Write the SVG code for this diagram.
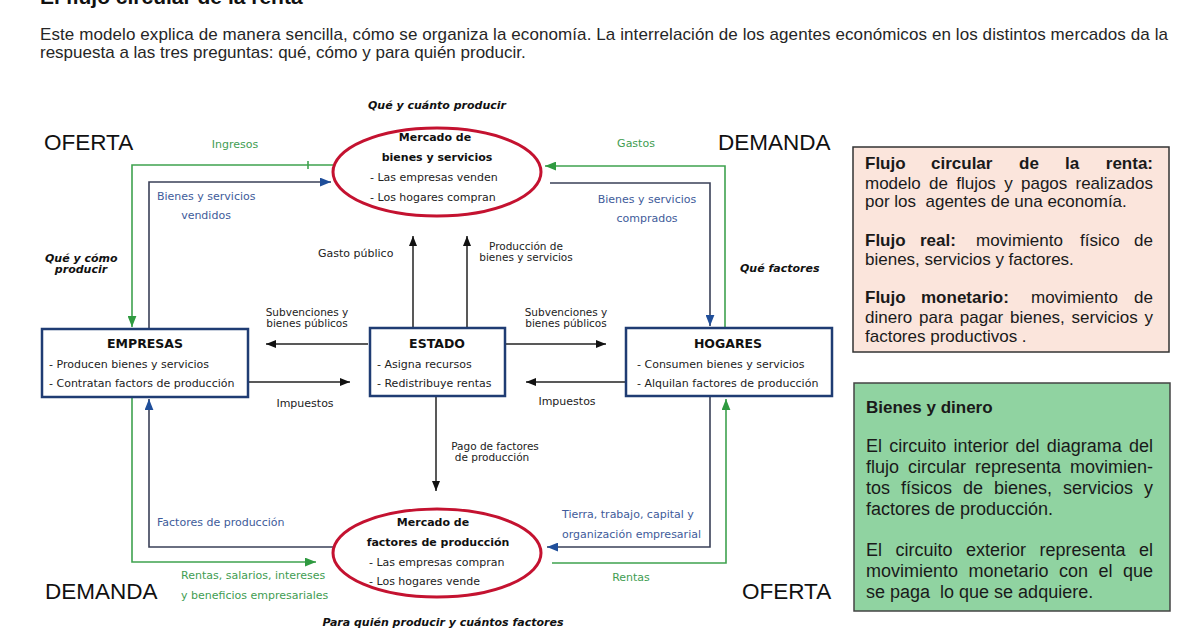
<svg xmlns="http://www.w3.org/2000/svg" width="1200" height="630" viewBox="0 0 1200 630">
<style>
.para{font-family:"Liberation Sans",Arial,sans-serif;font-size:17px;fill:#262626}
.title{font-family:"Liberation Sans",Arial,sans-serif;font-size:21px;font-weight:bold;fill:#111}
.lbl{font-family:"DejaVu Sans",Verdana,sans-serif;font-size:11px;fill:#222}
.sm{font-size:10.5px}
.g{fill:#3f9d52}
.b{fill:#3e5b9a}
.q{font-family:"DejaVu Sans",Verdana,sans-serif;font-size:11px;font-weight:bold;font-style:italic;fill:#111}
.hd{font-family:"DejaVu Sans",Verdana,sans-serif;font-weight:bold;fill:#111}
.big{font-family:"Liberation Sans",Arial,sans-serif;font-size:22.5px;fill:#111}
.box{fill:#fff;stroke:#1f3c73;stroke-width:2.5}
.mkt{fill:#fff;stroke:#c41230;stroke-width:3}
.side{font-family:"Liberation Sans",Arial,sans-serif;font-size:17px;fill:#1a1a1a}
.side2{font-family:"Liberation Sans",Arial,sans-serif;font-size:18px;fill:#1a1a1a}
.bd{font-weight:bold}
.lg{fill:none;stroke:#3fa24f;stroke-width:1.6}
.lb{fill:none;stroke:#3a4058;stroke-width:1.6}
.lk{fill:none;stroke:#222;stroke-width:1.5}
</style>
<defs>
<marker id="ag" viewBox="0 0 10 8" markerWidth="11" markerHeight="9" refX="10" refY="4" orient="auto" markerUnits="userSpaceOnUse"><path d="M0,0 L10,4 L0,8 z" fill="#2f9a40"/></marker>
<marker id="ab" viewBox="0 0 10 8" markerWidth="11" markerHeight="9" refX="10" refY="4" orient="auto" markerUnits="userSpaceOnUse"><path d="M0,0 L10,4 L0,8 z" fill="#1f4e9a"/></marker>
<marker id="ak" viewBox="0 0 10 8" markerWidth="10" markerHeight="8" refX="10" refY="4" orient="auto" markerUnits="userSpaceOnUse"><path d="M0,0 L10,4 L0,8 z" fill="#111"/></marker>
</defs>
<rect width="1200" height="630" fill="#fff"/>

<text class="title" x="40" y="4">El flujo circular de la renta</text>
<text class="para" x="40" y="40" textLength="1128" lengthAdjust="spacing">Este modelo explica de manera sencilla, cómo se organiza la economía. La interrelación de los agentes económicos en los distintos mercados da la</text>
<text class="para" x="40" y="58">respuesta a las tres preguntas: qué, cómo y para quién producir.</text>

<g id="connectors">
<path class="lg" d="M333 165 H132 V327" marker-end="url(#ag)"/>
<path class="lg" d="M308 161 V169"/>
<path class="lb" d="M149 329 V182 H331" marker-end="url(#ab)"/>
<path class="lg" d="M725 328 V166 H545" marker-end="url(#ag)"/>
<path class="lb" d="M550 183 H710 V326" marker-end="url(#ab)"/>
<path class="lk" d="M413 328 V236" marker-end="url(#ak)"/>
<path class="lk" d="M467 328 V236" marker-end="url(#ak)"/>
<path class="lk" d="M368 344 H266" marker-end="url(#ak)"/>
<path class="lk" d="M249 382 H350" marker-end="url(#ak)"/>
<path class="lk" d="M505 344 H606" marker-end="url(#ak)"/>
<path class="lk" d="M625 382 H526" marker-end="url(#ak)"/>
<path class="lk" d="M436 397 V491" marker-end="url(#ak)"/>
<path class="lb" d="M334 547 H149 V399" marker-end="url(#ab)"/>
<path class="lg" d="M132 397 V562 H316" marker-end="url(#ag)"/>
<path class="lb" d="M710 397 V547 H547" marker-end="url(#ab)"/>
<path class="lg" d="M552 563 H726 V399" marker-end="url(#ag)"/>
</g>

<g id="labels">
<text class="big" x="44" y="150">OFERTA</text>
<text class="big" x="718" y="150">DEMANDA</text>
<text class="big" x="45" y="599">DEMANDA</text>
<text class="big" x="742" y="599">OFERTA</text>
<text class="q" x="437" y="109" text-anchor="middle">Qué y cuánto producir</text>
<text class="q" x="443" y="626" text-anchor="middle">Para quién producir y cuántos factores</text>
<text class="q" x="45" y="262">Qué y cómo</text>
<text class="q" x="81" y="273" text-anchor="middle">producir</text>
<text class="q" x="740" y="272">Qué factores</text>
<text class="lbl g" x="235" y="148" text-anchor="middle">Ingresos</text>
<text class="lbl g" x="636" y="147" text-anchor="middle">Gastos</text>
<text class="lbl b" x="157" y="200">Bienes y servicios</text>
<text class="lbl b" x="206" y="219" text-anchor="middle">vendidos</text>
<text class="lbl b" x="647" y="203" text-anchor="middle">Bienes y servicios</text>
<text class="lbl b" x="647" y="222" text-anchor="middle">comprados</text>
<text class="lbl" x="318" y="257">Gasto público</text>
<text class="lbl sm" x="526" y="250" text-anchor="middle">Producción de</text>
<text class="lbl sm" x="526" y="261" text-anchor="middle">bienes y servicios</text>
<text class="lbl sm" x="307" y="316" text-anchor="middle">Subvenciones y</text>
<text class="lbl sm" x="307" y="327" text-anchor="middle">bienes públicos</text>
<text class="lbl sm" x="566" y="316" text-anchor="middle">Subvenciones y</text>
<text class="lbl sm" x="566" y="327" text-anchor="middle">bienes públicos</text>
<text class="lbl" x="305" y="407" text-anchor="middle">Impuestos</text>
<text class="lbl" x="567" y="405" text-anchor="middle">Impuestos</text>
<text class="lbl sm" x="495" y="450" text-anchor="middle">Pago de factores</text>
<text class="lbl sm" x="492" y="461" text-anchor="middle">de producción</text>
<text class="lbl b" x="157" y="526">Factores de producción</text>
<text class="lbl g" x="181" y="579">Rentas, salarios, intereses</text>
<text class="lbl g" x="181" y="599">y beneficios empresariales</text>
<text class="lbl b" x="562" y="518">Tierra, trabajo, capital y</text>
<text class="lbl b" x="562" y="538">organización empresarial</text>
<text class="lbl g" x="631" y="581" text-anchor="middle">Rentas</text>
</g>

<g id="mercado-bienes">
<ellipse class="mkt" cx="437" cy="172" rx="104" ry="44"/>
<text class="hd" x="435" y="141" font-size="11" text-anchor="middle">Mercado de</text>
<text class="hd" x="437" y="161" font-size="11" text-anchor="middle">bienes y servicios</text>
<text class="lbl" x="370" y="181">- Las empresas venden</text>
<text class="lbl" x="370" y="201">- Los hogares compran</text>
</g>

<g id="mercado-factores">
<ellipse class="mkt" cx="437" cy="553" rx="104" ry="44"/>
<text class="hd" x="433" y="526" font-size="11" text-anchor="middle">Mercado de</text>
<text class="hd" x="438" y="546" font-size="11" text-anchor="middle">factores de producción</text>
<text class="lbl" x="369" y="566">- Las empresas compran</text>
<text class="lbl" x="369" y="585">- Los hogares vende</text>
</g>

<g id="empresas">
<rect class="box" x="42" y="329" width="206" height="68"/>
<text class="hd" x="145" y="348" font-size="12.5" text-anchor="middle">EMPRESAS</text>
<text class="lbl" x="49" y="368">- Producen bienes y servicios</text>
<text class="lbl" x="49" y="387">- Contratan factors de producción</text>
</g>

<g id="estado">
<rect class="box" x="370" y="328" width="135" height="68"/>
<text class="hd" x="437" y="348" font-size="12.5" text-anchor="middle">ESTADO</text>
<text class="lbl" x="377" y="368">- Asigna recursos</text>
<text class="lbl" x="377" y="387">- Redistribuye rentas</text>
</g>

<g id="hogares">
<rect class="box" x="626" y="328" width="206" height="68"/>
<text class="hd" x="728" y="348" font-size="12.5" text-anchor="middle">HOGARES</text>
<text class="lbl" x="637" y="368">- Consumen bienes y servicios</text>
<text class="lbl" x="637" y="387">- Alquilan factores de producción</text>
</g>

<g id="definiciones">
<rect x="853" y="147" width="316" height="205" fill="#fbe5dc" stroke="#333" stroke-width="1.5"/>
<text class="side bd" y="169"><tspan x="865">Flujo</tspan><tspan x="931">circular</tspan><tspan x="1019">de</tspan><tspan x="1065">la</tspan><tspan x="1153" text-anchor="end">renta:</tspan></text>
<text class="side" y="189"><tspan x="865">modelo</tspan><tspan x="929">de</tspan><tspan x="956.2">flujos</tspan><tspan x="1004.2">y</tspan><tspan x="1021">pagos</tspan><tspan x="1153" text-anchor="end">realizados</tspan></text>
<text class="side" x="865" y="207" xml:space="preserve">por los  agentes de una economía.</text>
<text class="side" y="246"><tspan x="865" class="bd">Flujo</tspan><tspan x="920" class="bd">real:</tspan><tspan x="976">movimiento</tspan><tspan x="1080">físico</tspan><tspan x="1153" text-anchor="end">de</tspan></text>
<text class="side" x="865" y="265">bienes, servicios y factores.</text>
<text class="side" y="303"><tspan x="865" class="bd">Flujo</tspan><tspan x="921" class="bd">monetario:</tspan><tspan x="1031">movimiento</tspan><tspan x="1153" text-anchor="end">de</tspan></text>
<text class="side" y="323"><tspan x="865">dinero</tspan><tspan x="919">para</tspan><tspan x="959.8">pagar</tspan><tspan x="1010">bienes,</tspan><tspan x="1071.6">servicios</tspan><tspan x="1153" text-anchor="end">y</tspan></text>
<text class="side" x="865" y="342">factores productivos .</text>
</g>

<g id="bienes-dinero">
<rect x="854" y="383" width="316" height="228" fill="#90d3a1" stroke="#444" stroke-width="1.5"/>
<text class="side bd" x="866" y="413">Bienes y dinero</text>
<text class="side2" y="452"><tspan x="866">El</tspan><tspan x="889.2">circuito</tspan><tspan x="953.4">interior</tspan><tspan x="1015.6">del</tspan><tspan x="1046.8">diagrama</tspan><tspan x="1153" text-anchor="end">del</tspan></text>
<text class="side2" y="473"><tspan x="866">flujo</tspan><tspan x="908">circular</tspan><tspan x="975">representa</tspan><tspan x="1153" text-anchor="end">movimien-</tspan></text>
<text class="side2" y="494"><tspan x="866">tos</tspan><tspan x="901">físicos</tspan><tspan x="963">de</tspan><tspan x="994">bienes,</tspan><tspan x="1063">servicios</tspan><tspan x="1153" text-anchor="end">y</tspan></text>
<text class="side2" x="866" y="515">factores de producción.</text>
<text class="side2" y="556"><tspan x="866">El</tspan><tspan x="895.5">circuito</tspan><tspan x="966">exterior</tspan><tspan x="1039.5">representa</tspan><tspan x="1153" text-anchor="end">el</tspan></text>
<text class="side2" y="577"><tspan x="866">movimiento</tspan><tspan x="968.5">monetario</tspan><tspan x="1059">con</tspan><tspan x="1098.5">el</tspan><tspan x="1153" text-anchor="end">que</tspan></text>
<text class="side2" x="866" y="598" xml:space="preserve">se paga  lo que se adquiere.</text>
</g>
</svg>
